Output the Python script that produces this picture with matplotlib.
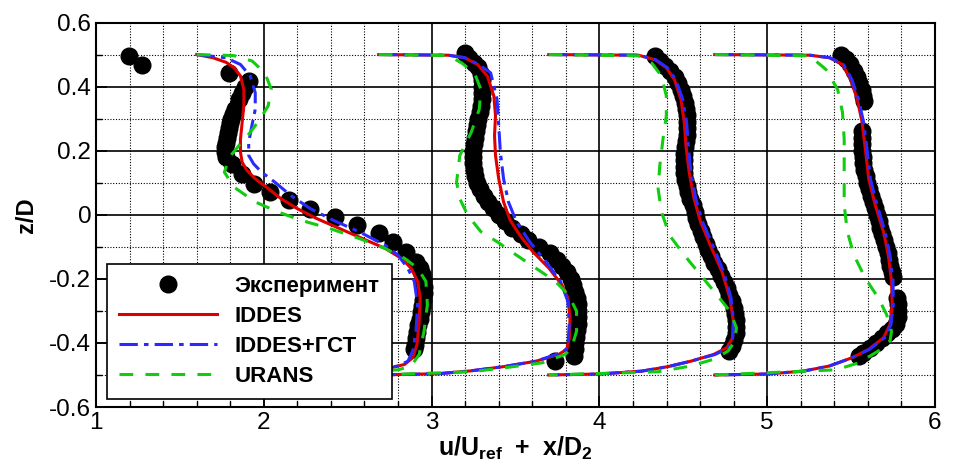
import numpy as np
import matplotlib.pyplot as plt
from matplotlib.ticker import MultipleLocator

plt.rcParams['font.family'] = ['Liberation Sans', 'DejaVu Sans']
plt.rcParams['mathtext.fontset'] = 'custom'
plt.rcParams['mathtext.rm'] = 'Liberation Sans'
plt.rcParams['mathtext.bf'] = 'Liberation Sans:bold'

# columns: u/Uref + x/D2, z/D
exp_1 = np.array([
    [1.198, 0.497], [1.275, 0.466],
    [1.794, 0.443], [1.910, 0.417], [1.890, 0.400], [1.871, 0.381], [1.852, 0.362],
    [1.830, 0.330], [1.818, 0.315], [1.807, 0.300], [1.797, 0.285], [1.790, 0.270],
    [1.784, 0.255], [1.778, 0.240], [1.772, 0.225], [1.767, 0.210], [1.767, 0.195],
    [1.772, 0.180], [1.813, 0.159], [1.871, 0.128], [1.939, 0.097], [2.036, 0.071],
    [2.152, 0.045], [2.278, 0.019], [2.423, -0.007], [2.558, -0.033], [2.684, -0.058],
    [2.771, -0.084], [2.849, -0.115], [2.907, -0.146], [2.930, -0.165], [2.944, -0.185],
    [2.950, -0.205], [2.953, -0.225], [2.952, -0.245], [2.948, -0.265], [2.942, -0.285],
    [2.935, -0.305], [2.928, -0.325], [2.920, -0.345], [2.912, -0.365], [2.905, -0.385],
    [2.900, -0.405], [2.893, -0.420],
])
exp_2 = np.array([
    [3.197, 0.505], [3.225, 0.490], [3.255, 0.475], [3.278, 0.460], [3.295, 0.440],
    [3.303, 0.420], [3.303, 0.400], [3.302, 0.380], [3.299, 0.360], [3.294, 0.340],
    [3.287, 0.320], [3.279, 0.300], [3.271, 0.280], [3.264, 0.260], [3.256, 0.240],
    [3.250, 0.220], [3.246, 0.200], [3.245, 0.180], [3.247, 0.160], [3.252, 0.140],
    [3.260, 0.120], [3.272, 0.100], [3.290, 0.080], [3.310, 0.060], [3.335, 0.040],
    [3.365, 0.020], [3.400, 0.000], [3.440, -0.020], [3.480, -0.040], [3.530, -0.060],
    [3.575, -0.080], [3.640, -0.100], [3.705, -0.120], [3.750, -0.140], [3.780, -0.160],
    [3.805, -0.180], [3.830, -0.200], [3.845, -0.220], [3.857, -0.240], [3.864, -0.260],
    [3.870, -0.280], [3.873, -0.300], [3.874, -0.320], [3.872, -0.340], [3.866, -0.360],
    [3.860, -0.380], [3.855, -0.400], [3.854, -0.420], [3.850, -0.440], [3.738, -0.457],
])
exp_3 = np.array([
    [4.331, 0.495], [4.360, 0.480], [4.389, 0.465], [4.420, 0.450], [4.450, 0.430],
    [4.470, 0.410], [4.486, 0.390], [4.498, 0.370], [4.510, 0.350], [4.517, 0.330],
    [4.521, 0.310], [4.524, 0.290], [4.523, 0.270], [4.520, 0.250], [4.515, 0.230],
    [4.510, 0.210], [4.507, 0.190], [4.505, 0.170], [4.505, 0.150], [4.506, 0.130],
    [4.510, 0.110], [4.520, 0.090], [4.530, 0.070], [4.540, 0.050], [4.555, 0.030],
    [4.567, 0.010], [4.578, -0.010], [4.590, -0.030], [4.605, -0.050], [4.620, -0.070],
    [4.635, -0.090], [4.650, -0.110], [4.665, -0.130], [4.685, -0.150], [4.705, -0.170],
    [4.725, -0.190], [4.745, -0.210], [4.760, -0.230], [4.775, -0.250], [4.790, -0.270],
    [4.800, -0.290], [4.810, -0.310], [4.817, -0.330], [4.817, -0.350], [4.812, -0.370],
    [4.805, -0.390], [4.790, -0.410], [4.775, -0.425],
])
exp_4 = np.array([
    [5.439, 0.500], [5.470, 0.485], [5.493, 0.470], [5.517, 0.450], [5.535, 0.430],
    [5.550, 0.410], [5.563, 0.390], [5.572, 0.370], [5.578, 0.355],
    [5.566, 0.260], [5.565, 0.240], [5.565, 0.220], [5.567, 0.200], [5.570, 0.180],
    [5.574, 0.160], [5.580, 0.140], [5.588, 0.120], [5.597, 0.100], [5.607, 0.080],
    [5.618, 0.060], [5.629, 0.040], [5.640, 0.020], [5.652, 0.000], [5.664, -0.020],
    [5.675, -0.040], [5.686, -0.060], [5.698, -0.080], [5.709, -0.100], [5.718, -0.120],
    [5.727, -0.140], [5.734, -0.160], [5.745, -0.180], [5.752, -0.195],
    [5.775, -0.260], [5.782, -0.280], [5.782, -0.300], [5.778, -0.320], [5.765, -0.340],
    [5.745, -0.355], [5.715, -0.370], [5.685, -0.385], [5.650, -0.400], [5.610, -0.415],
    [5.570, -0.430], [5.545, -0.440],
])

iddes_1 = np.array([
    [1.600, 0.500], [1.697, 0.490], [1.774, 0.476], [1.823, 0.459], [1.861, 0.433],
    [1.881, 0.391], [1.881, 0.340], [1.871, 0.288], [1.861, 0.236], [1.861, 0.195],
    [1.871, 0.164], [1.900, 0.138], [1.949, 0.112], [2.016, 0.086], [2.103, 0.050],
    [2.200, 0.019], [2.316, -0.012], [2.452, -0.043], [2.587, -0.074], [2.723, -0.105],
    [2.820, -0.136], [2.878, -0.167], [2.917, -0.208], [2.932, -0.260], [2.926, -0.333],
    [2.913, -0.405], [2.888, -0.446], [2.839, -0.467], [2.762, -0.477], [2.400, -0.492],
    [1.600, -0.500],
])
iddes_2 = np.array([
    [2.685, 0.500], [3.100, 0.498], [3.197, 0.490], [3.274, 0.469], [3.332, 0.433],
    [3.371, 0.371], [3.381, 0.309], [3.375, 0.247], [3.381, 0.185], [3.400, 0.112],
    [3.429, 0.040], [3.468, -0.017], [3.526, -0.064], [3.603, -0.115], [3.700, -0.167],
    [3.777, -0.219], [3.812, -0.260], [3.825, -0.322], [3.821, -0.384], [3.806, -0.420],
    [3.757, -0.436], [3.622, -0.457], [3.429, -0.474], [3.236, -0.487], [3.043, -0.496],
    [2.685, -0.500],
])
iddes_3 = np.array([
    [3.698, 0.500], [4.233, 0.498], [4.331, 0.484], [4.399, 0.459], [4.447, 0.422],
    [4.486, 0.360], [4.506, 0.288], [4.516, 0.216], [4.535, 0.133], [4.564, 0.050],
    [4.603, -0.022], [4.661, -0.095], [4.730, -0.177], [4.778, -0.260], [4.798, -0.332],
    [4.794, -0.384], [4.759, -0.415], [4.681, -0.436], [4.545, -0.457], [4.409, -0.474],
    [4.253, -0.488], [4.000, -0.497], [3.698, -0.500],
])
iddes_4 = np.array([
    [4.688, 0.500], [5.254, 0.498], [5.371, 0.490], [5.449, 0.469], [5.498, 0.422],
    [5.537, 0.360], [5.566, 0.288], [5.585, 0.205], [5.605, 0.112], [5.644, 0.030],
    [5.693, -0.053], [5.722, -0.126], [5.741, -0.208], [5.745, -0.281], [5.732, -0.343],
    [5.693, -0.384], [5.605, -0.420], [5.507, -0.446], [5.371, -0.472], [5.215, -0.488],
    [5.000, -0.497], [4.688, -0.500],
])

gst_1 = np.array([
    [1.600, 0.500], [1.774, 0.490], [1.861, 0.469], [1.919, 0.433], [1.949, 0.381],
    [1.949, 0.329], [1.929, 0.278], [1.910, 0.226], [1.910, 0.185], [1.939, 0.159],
    [1.987, 0.133], [2.065, 0.102], [2.161, 0.060], [2.278, 0.019], [2.413, -0.017],
    [2.568, -0.053], [2.723, -0.095], [2.800, -0.126], [2.858, -0.167], [2.897, -0.208],
    [2.917, -0.281], [2.907, -0.363], [2.888, -0.425], [2.859, -0.457], [2.800, -0.472],
    [2.742, -0.477], [2.400, -0.492], [1.600, -0.500],
])
gst_2 = np.array([
    [2.685, 0.500], [3.100, 0.498], [3.200, 0.490], [3.280, 0.469], [3.352, 0.443],
    [3.390, 0.360], [3.400, 0.278], [3.410, 0.195], [3.429, 0.112], [3.458, 0.040],
    [3.506, -0.022], [3.584, -0.084], [3.681, -0.146], [3.768, -0.208], [3.812, -0.270],
    [3.820, -0.343], [3.812, -0.415], [3.777, -0.430], [3.622, -0.457], [3.429, -0.474],
    [3.236, -0.487], [3.043, -0.496], [2.685, -0.500],
])
gst_3 = np.array([
    [3.698, 0.500], [4.233, 0.498], [4.335, 0.484], [4.405, 0.459], [4.455, 0.422],
    [4.497, 0.360], [4.520, 0.288], [4.530, 0.216], [4.545, 0.133], [4.575, 0.050],
    [4.615, -0.022], [4.675, -0.095], [4.740, -0.177], [4.785, -0.260], [4.800, -0.332],
    [4.795, -0.384], [4.770, -0.415], [4.690, -0.436], [4.545, -0.457], [4.409, -0.474],
    [4.253, -0.488], [4.000, -0.497], [3.698, -0.500],
])
gst_4 = np.array([
    [4.688, 0.500], [5.254, 0.498], [5.375, 0.490], [5.455, 0.469], [5.505, 0.422],
    [5.545, 0.360], [5.575, 0.288], [5.595, 0.205], [5.615, 0.112], [5.655, 0.030],
    [5.703, -0.053], [5.732, -0.126], [5.750, -0.208], [5.752, -0.281], [5.738, -0.343],
    [5.700, -0.384], [5.610, -0.420], [5.507, -0.446], [5.371, -0.472], [5.215, -0.488],
    [5.000, -0.497], [4.688, -0.500],
])

urans_1 = np.array([
    [1.600, 0.500], [1.820, 0.497], [1.930, 0.480], [2.006, 0.443], [2.045, 0.391],
    [2.026, 0.340], [1.977, 0.298], [1.919, 0.257], [1.852, 0.216], [1.794, 0.179],
    [1.765, 0.133], [1.823, 0.086], [1.949, 0.040], [2.084, 0.009], [2.220, -0.017],
    [2.394, -0.043], [2.568, -0.074], [2.723, -0.105], [2.839, -0.136], [2.917, -0.167],
    [2.966, -0.208], [2.975, -0.281], [2.955, -0.363], [2.926, -0.436], [2.878, -0.472],
    [2.800, -0.484], [2.400, -0.494], [1.600, -0.500],
])
urans_2 = np.array([
    [2.685, 0.500], [3.100, 0.497], [3.178, 0.474], [3.255, 0.443], [3.294, 0.391],
    [3.284, 0.329], [3.236, 0.257], [3.168, 0.185], [3.149, 0.102], [3.168, 0.050],
    [3.216, -0.002], [3.294, -0.053], [3.390, -0.084], [3.506, -0.126], [3.622, -0.167],
    [3.738, -0.208], [3.816, -0.250], [3.864, -0.301], [3.864, -0.363], [3.835, -0.415],
    [3.796, -0.436], [3.660, -0.462], [3.429, -0.478], [3.236, -0.490], [2.685, -0.500],
])
urans_3 = np.array([
    [3.698, 0.500], [4.233, 0.496], [4.311, 0.474], [4.370, 0.433], [4.399, 0.371],
    [4.399, 0.309], [4.379, 0.236], [4.360, 0.153], [4.350, 0.081], [4.370, 0.009],
    [4.418, -0.064], [4.506, -0.126], [4.603, -0.188], [4.700, -0.250], [4.778, -0.301],
    [4.817, -0.353], [4.807, -0.394], [4.768, -0.425], [4.681, -0.451], [4.545, -0.472],
    [4.350, -0.490], [3.698, -0.500],
])
urans_4 = np.array([
    [4.688, 0.500], [5.254, 0.496], [5.351, 0.453], [5.420, 0.391], [5.449, 0.319],
    [5.459, 0.236], [5.459, 0.133], [5.459, 0.030], [5.478, -0.053], [5.517, -0.126],
    [5.585, -0.198], [5.663, -0.260], [5.712, -0.312], [5.741, -0.364], [5.732, -0.394],
    [5.663, -0.425], [5.546, -0.462], [5.410, -0.484], [4.688, -0.500],
])

experiment = [exp_1, exp_2, exp_3, exp_4]
iddes = [iddes_1, iddes_2, iddes_3, iddes_4]
iddes_gst = [gst_1, gst_2, gst_3, gst_4]
urans = [urans_1, urans_2, urans_3, urans_4]

fig = plt.figure(figsize=(9.62, 4.72), dpi=100)
ax = fig.add_axes([0.0998, 0.1377, 0.8721, 0.8146])

for i in range(4):
    lab = i == 0
    ax.plot(experiment[i][:, 0], experiment[i][:, 1], 'o', color='black', ms=12,
            zorder=2, label='Эксперимент' if lab else None)
    ax.plot(iddes[i][:, 0], iddes[i][:, 1], '-', color='#dd0000', lw=2.2,
            zorder=3, label='IDDES' if lab else None)
    ax.plot(iddes_gst[i][:, 0], iddes_gst[i][:, 1], color='#2a2aff', lw=2.2,
            dashes=(6, 2, 1.5, 2), zorder=4, label='IDDES+ГСТ' if lab else None)
    ax.plot(urans[i][:, 0], urans[i][:, 1], color='#11cc11', lw=2.2,
            dashes=(4.5, 4), zorder=5, label='URANS' if lab else None)

ax.set_xlim(1, 6)
ax.set_ylim(-0.6, 0.6)
ax.xaxis.set_major_locator(MultipleLocator(1))
ax.xaxis.set_minor_locator(MultipleLocator(0.2))
ax.yaxis.set_minor_locator(MultipleLocator(0.1))
ax.set_yticks(np.arange(-0.6, 0.61, 0.2))
ax.set_yticklabels(['-0.6', '-0.4', '-0.2', '0', '0.2', '0.4', '0.6'])
ax.grid(which='major', color='black', lw=1.2, ls='-', zorder=0)
ax.grid(which='minor', color='black', lw=0.8, ls=(0, (1, 1.5)), zorder=0)
ax.set_axisbelow(True)
ax.tick_params(which='both', direction='in', top=False, right=False, labelsize=17.5)
ax.tick_params(which='major', length=8, width=1.2)
ax.tick_params(which='minor', length=4, width=1)
for s in ax.spines.values():
    s.set_linewidth(1.5)

ax.set_xlabel(r'$\mathbf{u/U_{ref}\ +\ x/D_2}$', fontsize=18, labelpad=1)
ax.set_ylabel('z/D', fontsize=17, fontweight='bold', labelpad=8)

leg = ax.legend(loc='lower left', bbox_to_anchor=(0.013, 0.021), borderaxespad=0,
                fancybox=False, framealpha=1, edgecolor='black', numpoints=1,
                handlelength=4.4, handletextpad=0.8, labelspacing=0.4,
                borderpad=0.55, prop={'size': 16, 'weight': 'bold'})
leg.get_frame().set_linewidth(1.2)
leg.set_zorder(10)

fig.savefig('out.png', dpi=100)
